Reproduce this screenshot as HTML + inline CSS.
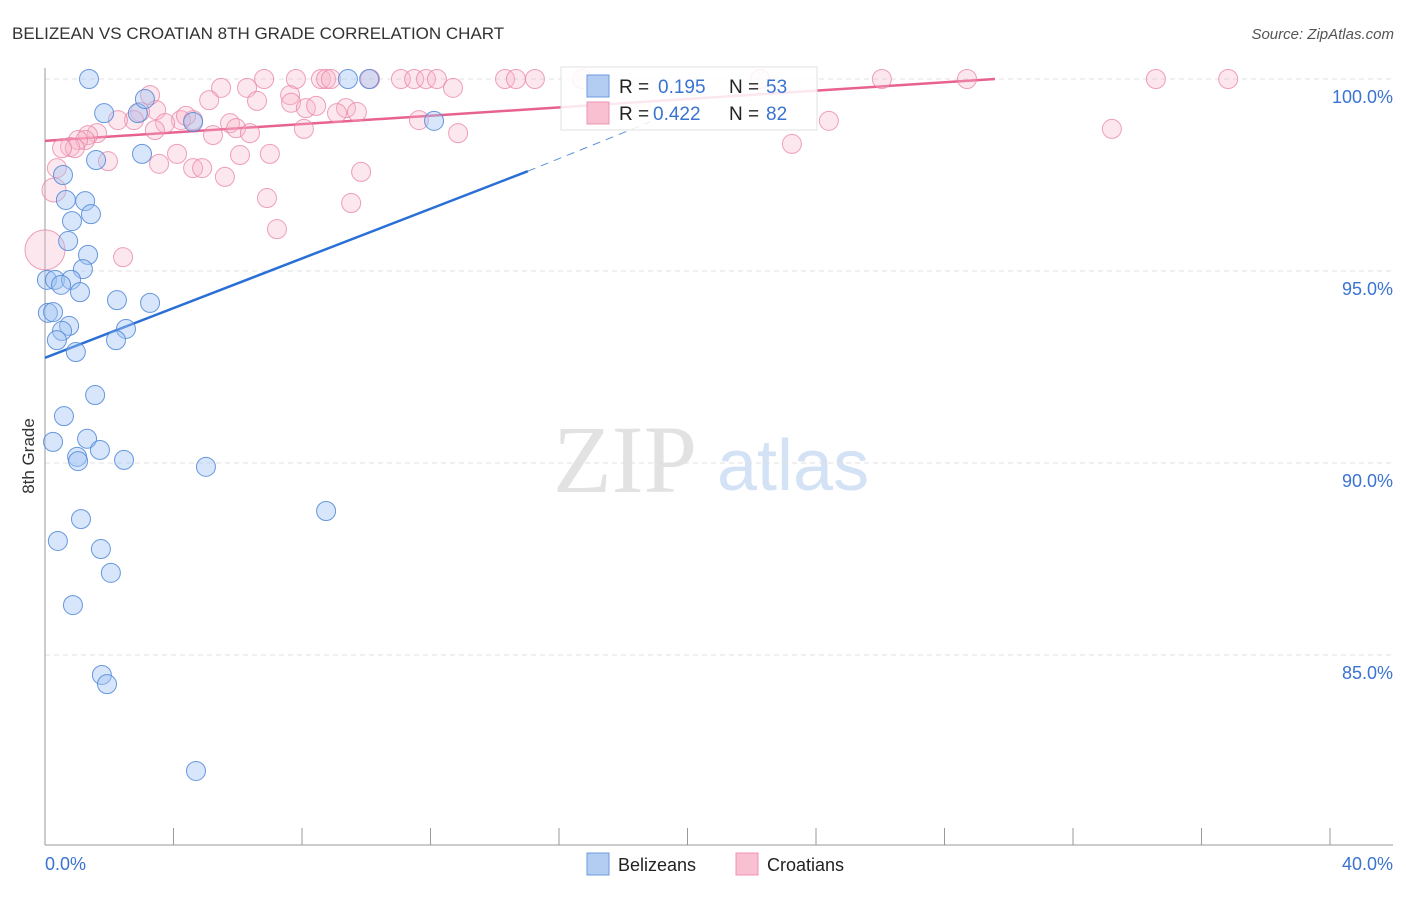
<!DOCTYPE html>
<html><head><meta charset="utf-8"><style>
body{margin:0;background:#fff;font-family:"Liberation Sans",sans-serif;}
svg text{font-family:"Liberation Sans",sans-serif;}
</style></head><body>
<svg id="chart" width="1406" height="892" xmlns="http://www.w3.org/2000/svg">
<text x="12" y="39" font-size="17" fill="#333">BELIZEAN VS CROATIAN 8TH GRADE CORRELATION CHART</text>
<text x="1394" y="39" font-size="15" fill="#555" text-anchor="end" font-style="italic">Source: ZipAtlas.com</text>
<g>
<text x="553" y="492" font-size="96" fill="#e2e2e2" font-family="Liberation Serif, serif" style="font-family:'Liberation Serif',serif">ZIP</text>
<text x="717" y="490" font-size="72" fill="#d4e2f6">atlas</text>
</g>
<g id="grid"></g>
<g id="axes"></g>
<g id="trend"></g>
<g id="pts"></g>
<g>
<rect x="561" y="67" width="256" height="63" fill="#fff" fill-opacity="0.85" stroke="#e0e0e0"/>
<rect x="587" y="75" width="22" height="22" fill="#b3cdf2" stroke="#6d9be0"/>
<text x="619" y="93" font-size="19" fill="#222">R = </text><text x="658" y="93" font-size="19" fill="#3a73d0">0.195</text>
<text x="729" y="93" font-size="19" fill="#222">N = </text><text x="766" y="93" font-size="19" fill="#3a73d0">53</text>
<rect x="587" y="102" width="22" height="22" fill="#f8c0d0" stroke="#ec95b0"/>
<text x="619" y="120" font-size="19" fill="#222">R = </text><text x="653" y="120" font-size="19" fill="#3a73d0">0.422</text>
<text x="729" y="120" font-size="19" fill="#222">N = </text><text x="766" y="120" font-size="19" fill="#3a73d0">82</text>
</g>
<text x="34" y="456" font-size="17" fill="#333" transform="rotate(-90 34 456)" text-anchor="middle">8th Grade</text>
<text x="45" y="870" font-size="18" fill="#3a73d0">0.0%</text>
<text x="1393" y="870" font-size="18" fill="#3a73d0" text-anchor="end">40.0%</text>
<g>
<rect x="587" y="853" width="22" height="22" fill="#b3cdf2" stroke="#6d9be0"/>
<text x="618" y="871" font-size="18" fill="#222">Belizeans</text></g>
<g>
<rect x="736" y="853" width="22" height="22" fill="#f8c0d0" stroke="#ec95b0"/>
<text x="767" y="871" font-size="18" fill="#222">Croatians</text></g>
</svg>
<script>
const yTicks=[100,95,90,85];
const yTickLabels=["100.0%","95.0%","90.0%","85.0%"];
const xTicks=[0,4,8,12,16,20,24,28,32,36,40];
const belX=[1.37,9.43,10.09,1.84,2.89,3.11,4.61,12.11,3.02,1.59,0.56,0.65,1.25,1.43,0.84,0.72,1.34,1.18,0.06,0.31,0.81,0.50,1.09,2.24,3.27,0.09,0.25,0.75,0.53,2.52,0.37,2.21,0.96,1.56,0.59,0.25,1.31,1.00,1.03,1.71,2.46,5.01,1.12,8.75,0.40,1.74,2.05,0.87,1.77,1.93,4.70];
const belY=[100,100,100,99.11,99.11,99.48,98.88,98.91,98.05,97.89,97.5,96.85,96.82,96.48,96.30,95.78,95.42,95.05,94.77,94.77,94.77,94.64,94.45,94.24,94.17,93.91,93.93,93.57,93.44,93.49,93.20,93.20,92.89,91.77,91.22,90.55,90.63,90.16,90.05,90.34,90.08,89.90,88.54,88.75,87.97,87.76,87.14,86.30,84.48,84.24,81.98];
const croX=[6.82,7.81,8.59,8.75,8.90,10.12,11.08,11.49,11.86,12.20,14.32,14.66,15.25,16.72,22.26,26.05,28.70,34.58,36.83,5.48,6.29,12.70,3.27,5.11,6.60,7.63,7.66,8.12,8.44,9.37,9.09,9.71,3.46,2.96,2.77,2.27,4.61,4.23,4.39,3.74,5.76,5.95,6.38,5.23,3.42,8.06,11.64,12.86,24.40,33.21,23.25,1.62,1.34,1.25,1.03,0.78,0.93,0.53,0.37,1.96,4.11,3.55,4.61,4.89,5.60,6.07,7.00,6.91,7.22,9.53,9.84,2.43,0.28,0];
const croY=[100,100,100,100,100,100,100,100,100,100,100,100,100,100,100,100,100,100,100,99.77,99.77,99.77,99.58,99.45,99.43,99.58,99.38,99.24,99.30,99.24,99.11,99.14,99.19,99.14,98.93,98.93,98.93,98.93,99.04,98.85,98.85,98.72,98.59,98.54,98.67,98.70,98.93,98.59,98.91,98.70,98.31,98.59,98.54,98.41,98.41,98.23,98.20,98.20,97.68,97.86,98.05,97.79,97.68,97.68,97.45,98.02,98.05,96.90,96.09,96.77,97.58,95.36,97.11,95.55];
const croR=[];croY.forEach((v,i)=>croR.push(i==croY.length-1?20:(i==croY.length-2?12:9.5)));
const belTrend=[92.74,97.6,98.88]; const belTrendX=[0,15.03,18.83];
const croTrend=[98.39,100]; const croTrendX=[0,29.57];
const sx=v=>45+v*32.125, sy=v=>79+(100-v)*38.4;
const NS="http://www.w3.org/2000/svg";
function mk(tag,attrs,parent){const e=document.createElementNS(NS,tag);for(const k in attrs)e.setAttribute(k,attrs[k]);document.getElementById(parent).appendChild(e);return e;}
yTicks.forEach((t,i)=>{
 const l=mk('line',{x1:45,x2:1393,y1:sy(t),y2:sy(t),stroke:'#e0e0e0','stroke-dasharray':'5,4'},'grid');
 
 
 const tx=mk('text',{x:1393,y:sy(t)+24,'font-size':18,fill:'#3a73d0','text-anchor':'end'},'grid');
 tx.textContent=yTickLabels[i];
 
 
});
let a=mk('line',{x1:45,x2:45,y1:68,y2:845,stroke:'#999'},'axes');


a=mk('line',{x1:45,x2:1393,y1:845,y2:845,stroke:'#999'},'axes');


xTicks.forEach(t=>{const l=mk('line',{x1:sx(t),x2:sx(t),y1:828,y2:845,stroke:'#999'},'axes');
 
 });
croX.forEach((x,i)=>{const c=mk('circle',{cx:sx(x),cy:sy(croY[i]),r:croR[i],fill:'rgba(248,180,202,0.32)',stroke:'rgba(232,130,165,0.75)','stroke-width':1},'pts');
 
 });
belX.forEach((x,i)=>{const c=mk('circle',{cx:sx(x),cy:sy(belY[i]),r:9.5,fill:'rgba(160,196,242,0.42)',stroke:'rgba(80,135,215,0.85)','stroke-width':1},'pts');
 
 });
let t=mk('line',{x1:sx(croTrendX[0]),y1:sy(croTrend[0]),x2:sx(croTrendX[1]),y2:sy(croTrend[1]),stroke:'#e8628f','stroke-width':2.5},'trend');


t=mk('line',{x1:sx(belTrendX[0]),y1:sy(belTrend[0]),x2:sx(belTrendX[1]),y2:sy(belTrend[1]),stroke:'#2a6fd6','stroke-width':2.5},'trend');


t=mk('line',{x1:sx(belTrendX[1]),y1:sy(belTrend[1]),x2:sx(belTrendX[2]),y2:sy(belTrend[2]),stroke:'#5b8fd9','stroke-width':1,'stroke-dasharray':'8,6'},'trend');


</script>
</body></html>
